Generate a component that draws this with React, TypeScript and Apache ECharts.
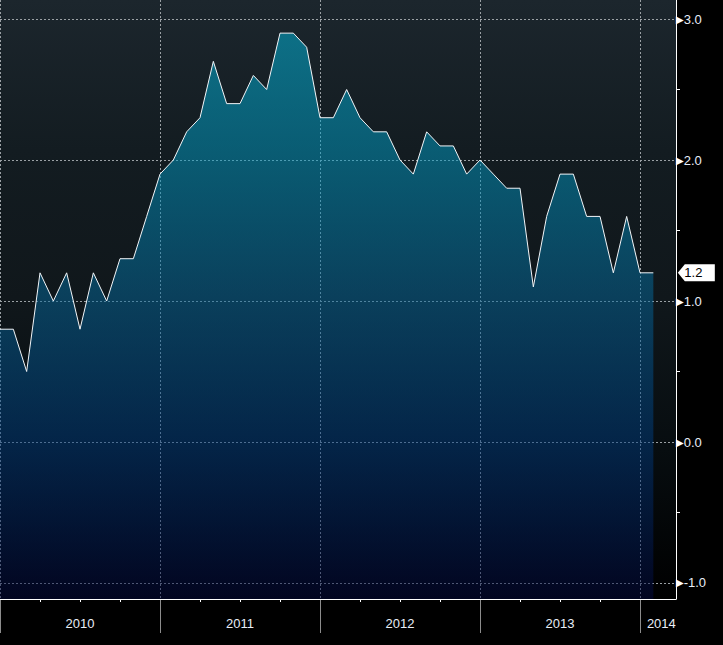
import React, { useEffect, useRef } from "react";
import * as echarts from "echarts";

// Monthly values, Jan 2010 .. Feb 2014 (index = months since Jan 2010)
const values: number[] = [
  0.8, 0.8, 0.5, 1.2, 1.0, 1.2, 0.8, 1.2, 1.0, 1.3, 1.3, 1.6,
  1.9, 2.0, 2.2, 2.3, 2.7, 2.4, 2.4, 2.6, 2.5, 2.9, 2.9, 2.8,
  2.3, 2.3, 2.5, 2.3, 2.2, 2.2, 2.0, 1.9, 2.2, 2.1, 2.1, 1.9,
  2.0, 1.9, 1.8, 1.8, 1.1, 1.6, 1.9, 1.9, 1.6, 1.6, 1.2, 1.6,
  1.2, 1.2,
];
const yearLabels: string[] = ["2010", "2011", "2012", "2013", "2014"];
const yearStarts: number[] = [0, 12, 24, 36, 48];
const yearLabelPos: number[] = [6, 18, 30, 42, 49.6];
const quarterTicks: number[] = [3, 6, 9, 15, 18, 21, 27, 30, 33, 39, 42, 45];
const yTicks: number[] = [3, 2, 1, 0, -1];
const yMinorTicks: number[] = [2.5, 1.5, 0.5, -0.5];

const X_MIN = 0;
const X_MAX = 50.7;
const Y_MIN = -1.1135;
const Y_MAX = 3.135;
const FONT = "'Liberation Sans', Arial, sans-serif";
const LABEL_COLOR = "#e8eef8";

export default function App() {
  const ref = useRef<HTMLDivElement>(null);
  useEffect(() => {
    if (!ref.current) return;
    const chart = echarts.init(ref.current, undefined, { renderer: "svg" });
    const lastIdx = values.length - 1;
    const option: any = {
      animation: false,
      backgroundColor: "#000000",
      grid: {
        left: 0,
        right: 47,
        top: 0,
        bottom: 46,
        show: true,
        borderWidth: 0,
        backgroundColor: new echarts.graphic.LinearGradient(0, 0, 0, 1, [
          { offset: 0, color: "#1c262d" },
          { offset: 0.25, color: "#131c21" },
          { offset: 0.5, color: "#10171b" },
          { offset: 0.75, color: "#070d10" },
          { offset: 1, color: "#000000" },
        ]),
      },
      xAxis: [
        {
          type: "value",
          min: X_MIN,
          max: X_MAX,
          position: "bottom",
          z: 5,
          axisLine: { show: true, onZero: false, lineStyle: { color: "#ffffff", width: 1 } },
          axisTick: {
            show: true,
            customValues: quarterTicks,
            length: 3,
            lineStyle: { color: "#ffffff", width: 1 },
          },
          axisLabel: {
            show: true,
            customValues: yearLabelPos,
            formatter: (v: number) => yearLabels[Math.floor(v / 12)],
            color: LABEL_COLOR,
            fontSize: 13,
            fontFamily: FONT,
            margin: 18,
          },
          splitLine: { show: false },
        },
        {
          type: "value",
          min: X_MIN,
          max: X_MAX,
          position: "bottom",
          axisLine: { show: false, onZero: false },
          axisTick: {
            show: true,
            customValues: yearStarts,
            length: 34,
            lineStyle: { color: "#8c8c8c", width: 1 },
          },
          axisLabel: { show: false },
          splitLine: {
            show: true,
            lineStyle: { color: "#9aa0a4", width: 1, type: [2, 2] },
          },
        },
      ],
      yAxis: [
        {
          type: "value",
          min: Y_MIN,
          max: Y_MAX,
          position: "right",
          z: 5,
          axisLine: { show: true, onZero: false, lineStyle: { color: "#ffffff", width: 1 } },
          axisTick: {
            show: true,
            customValues: yMinorTicks,
            length: 4,
            lineStyle: { color: "#ffffff", width: 1 },
          },
          axisLabel: {
            show: true,
            customValues: yTicks,
            margin: 0,
            formatter: (v: number) => `{a|▶}{b|${v.toFixed(1)}}`,
            rich: {
              a: { fontSize: 10, color: "#ffffff", fontFamily: "DejaVu Sans" },
              b: { fontSize: 13, color: LABEL_COLOR, fontFamily: FONT },
            },
          },
          splitLine: { show: false },
        },
        {
          type: "value",
          min: Y_MIN,
          max: Y_MAX,
          position: "right",
          axisLine: { show: false, onZero: false },
          axisTick: { show: false, customValues: yTicks },
          axisLabel: { show: false },
          splitLine: {
            show: true,
            lineStyle: { color: "#9aa0a4", width: 1, type: [2, 2] },
          },
        },
      ],
      series: [
        {
          type: "line",
          xAxisIndex: 0,
          yAxisIndex: 0,
          data: values.map((v, i) => [i, v]),
          showSymbol: false,
          symbol: "none",
          lineStyle: { color: "#f2f5f8", width: 1 },
          areaStyle: {
            origin: "start",
            opacity: 0.5,
            color: new echarts.graphic.LinearGradient(0, 0, 0, 1, [
              { offset: 0, color: "#00bbe1" },
              { offset: 0.22, color: "#009ac3" },
              { offset: 0.47, color: "#04679b" },
              { offset: 0.72, color: "#003c7f" },
              { offset: 1, color: "#040a40" },
            ]),
          },
          markPoint: {
            silent: true,
            symbol: "path://M0,8.5L7,0L37,0L37,17L7,17Z",
            symbolSize: [37, 17],
            symbolOffset: [43, 0],
            itemStyle: { color: "#ffffff" },
            label: {
              show: true,
              position: "inside",
              offset: [-3, 0],
              color: "#000000",
              fontSize: 13,
              fontFamily: FONT,
              formatter: () => values[lastIdx].toFixed(1),
            },
            data: [{ coord: [lastIdx, values[lastIdx]] }],
          },
        },
      ],
    };
    chart.setOption(option);
    return () => chart.dispose();
  }, []);
  return (
    <div
      ref={ref}
      style={{ position: "fixed", left: 0, top: 0, width: 723, height: 645 }}
    />
  );
}
